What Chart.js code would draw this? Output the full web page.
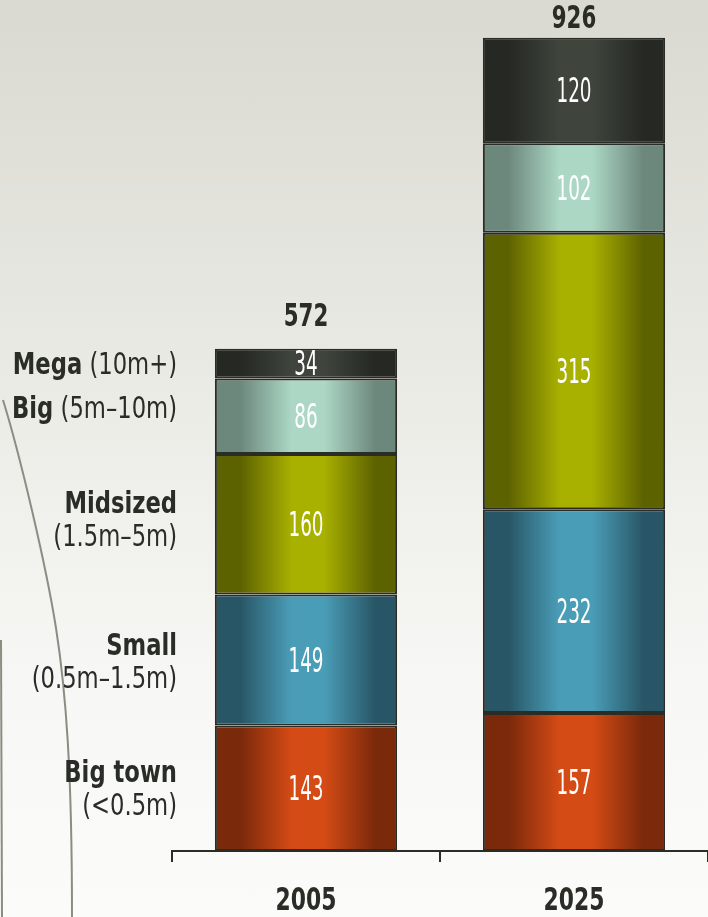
<!DOCTYPE html>
<html>
<head>
<meta charset="utf-8">
<script src="https://cdn.jsdelivr.net/npm/chart.js@4.4.1/dist/chart.umd.min.js"></script>
<style>
  html, body { margin: 0; padding: 0; }
  body {
    width: 708px; height: 917px; overflow: hidden;
    background: linear-gradient(to bottom, #d9d9d1 0%, #ecece7 45%, #f7f7f5 75%, #fbfbfa 100%);
  }
  #wrap { position: relative; width: 708px; height: 917px; }
</style>
</head>
<body>
<div id="wrap"><canvas id="chart"></canvas></div>
<script>
/* ─── Data ─────────────────────────────────────── */

const YEARS = ['2005', '2025'];
const SERIES_NAMES = ['Big town', 'Small', 'Midsized', 'Big', 'Mega'];
const SERIES_RANGES = ['(<0.5m)', '(0.5m–1.5m)', '(1.5m–5m)', '(5m–10m)', '(10m+)'];
const BIG_TOWN = [143, 157];
const SMALL = [149, 232];
const MIDSIZED = [160, 315];
const BIG = [86, 102];
const MEGA = [34, 120];
const TOTALS = [572, 926];

/* ─── Styling ─────────────────────────────────────── */

const FONT = "'DejaVu Sans Condensed', 'Liberation Sans Narrow', sans-serif";
const INK = '#2a2c26';

const SHADES = [
  { dark: '#7a290b', light: '#d44b15' },
  { dark: '#285666', light: '#4a9db7' },
  { dark: '#5d6200', light: '#a8b000' },
  { dark: '#6c887c', light: '#acd7c5' },
  { dark: '#252823', light: '#3f443d' },
];

const BAR_PCT = 0.68;

function cylinderFill(shade) {
  return context => {
    const chart = context.chart;
    if (!chart.chartArea || context.dataIndex === undefined) return shade.light;
    const xs = chart.scales.x;
    const cx = xs.getPixelForValue(context.dataIndex);
    const half = (chart.chartArea.width / YEARS.length) * BAR_PCT / 2;
    const g = chart.ctx.createLinearGradient(cx - half, 0, cx + half, 0);
    g.addColorStop(0, shade.dark);
    g.addColorStop(0.14, shade.dark);
    g.addColorStop(0.42, shade.light);
    g.addColorStop(0.6, shade.light);
    g.addColorStop(0.88, shade.dark);
    g.addColorStop(1, shade.dark);
    return g;
  };
}

const seriesValues = [BIG_TOWN, SMALL, MIDSIZED, BIG, MEGA];

// condensed text: the original face is much narrower than anything installed
function squeeze(ctx, text, x, y, font, align, sx) {
  ctx.save();
  ctx.translate(x, y);
  ctx.scale(sx, 1);
  ctx.font = font;
  ctx.textAlign = align;
  ctx.textBaseline = 'middle';
  ctx.fillText(text, 0, 0);
  ctx.restore();
}

/* ─── Plugins ─────────────────────────────────────── */

const decoration = {
  id: 'decoration',
  beforeDraw(chart) {
    const ctx = chart.ctx;
    ctx.save();
    ctx.strokeStyle = '#8b8d82';
    ctx.lineWidth = 2;
    ctx.beginPath();
    ctx.moveTo(3, 400);
    ctx.bezierCurveTo(20, 455, 46, 565, 56, 628);
    ctx.bezierCurveTo(66, 692, 72, 770, 72, 917);
    ctx.stroke();
    ctx.beginPath();
    ctx.moveTo(1, 640);
    ctx.lineTo(2, 917);
    ctx.stroke();
    ctx.restore();
  }
};

const LABEL_DY = [2, 3, -3, -6, 3];
const SX = 0.84;

const barLabels = {
  id: 'barLabels',
  afterDatasetsDraw(chart) {
    const ctx = chart.ctx;
    ctx.save();

    // values inside segments
    ctx.fillStyle = '#ffffff';
    chart.data.datasets.forEach((ds, di) => {
      chart.getDatasetMeta(di).data.forEach((bar, i) => {
        const y = (bar.y + bar.base) / 2;
        squeeze(ctx, String(ds.data[i]), bar.x, y + 3, `33px ${FONT}`, 'center', 0.62);
      });
    });

    // totals above bars
    ctx.fillStyle = INK;
    const top = chart.getDatasetMeta(chart.data.datasets.length - 1).data;
    top.forEach((bar, i) => {
      squeeze(ctx, String(TOTALS[i]), bar.x, Math.max(20, bar.y - 31), `bold 32px ${FONT}`, 'center', 0.74);
    });

    // year labels under the axis
    const xs = chart.scales.x;
    YEARS.forEach((yr, i) => {
      squeeze(ctx, yr, xs.getPixelForValue(i), 902, `bold 32px ${FONT}`, 'center', 0.76);
    });

    // size labels on the left, next to the first bar
    const rightX = chart.chartArea.left + 5;
    const bold = `bold 30px ${FONT}`, reg = `30px ${FONT}`;
    SERIES_NAMES.forEach((name, si) => {
      const bar = chart.getDatasetMeta(si).data[0];
      const cy = (bar.y + bar.base) / 2 + LABEL_DY[si];
      const range = SERIES_RANGES[si];
      if (si >= 3) {
        ctx.font = reg;
        const w2 = ctx.measureText(' ' + range).width * SX;
        squeeze(ctx, ' ' + range, rightX, cy, reg, 'right', SX);
        squeeze(ctx, name, rightX - w2, cy, bold, 'right', SX);
      } else {
        squeeze(ctx, name, rightX, cy - 16, bold, 'right', SX);
        squeeze(ctx, range, rightX, cy + 17, reg, 'right', SX);
      }
    });
    ctx.restore();
  }
};

/* ─── Chart ─────────────────────────────────────── */

new Chart(document.getElementById('chart'), {
  type: 'bar',
  data: {
    labels: YEARS,
    datasets: SERIES_NAMES.map((name, si) => ({
      label: name,
      data: seriesValues[si],
      backgroundColor: cylinderFill(SHADES[si]),
      borderColor: INK,
      borderWidth: 2,
      borderSkipped: false,
      barPercentage: BAR_PCT,
      categoryPercentage: 1,
    })),
  },
  options: {
    responsive: true, maintainAspectRatio: false, animation: false,
    layout: { padding: { left: 172, right: 0, top: 0, bottom: 0 } },
    plugins: { legend: { display: false }, tooltip: { enabled: false } },
    scales: {
      x: {
        stacked: true,
        grid: { drawOnChartArea: false, drawTicks: true, tickLength: 11, color: INK, lineWidth: 2 },
        border: { display: true, color: INK, width: 2 },
        ticks: { display: false },
        afterFit: s => { s.height = 66; },
      },
      y: { stacked: true, display: false, min: 0, max: 969 },
    },
  },
  plugins: [decoration, barLabels],
});
</script>
</body>
</html>
